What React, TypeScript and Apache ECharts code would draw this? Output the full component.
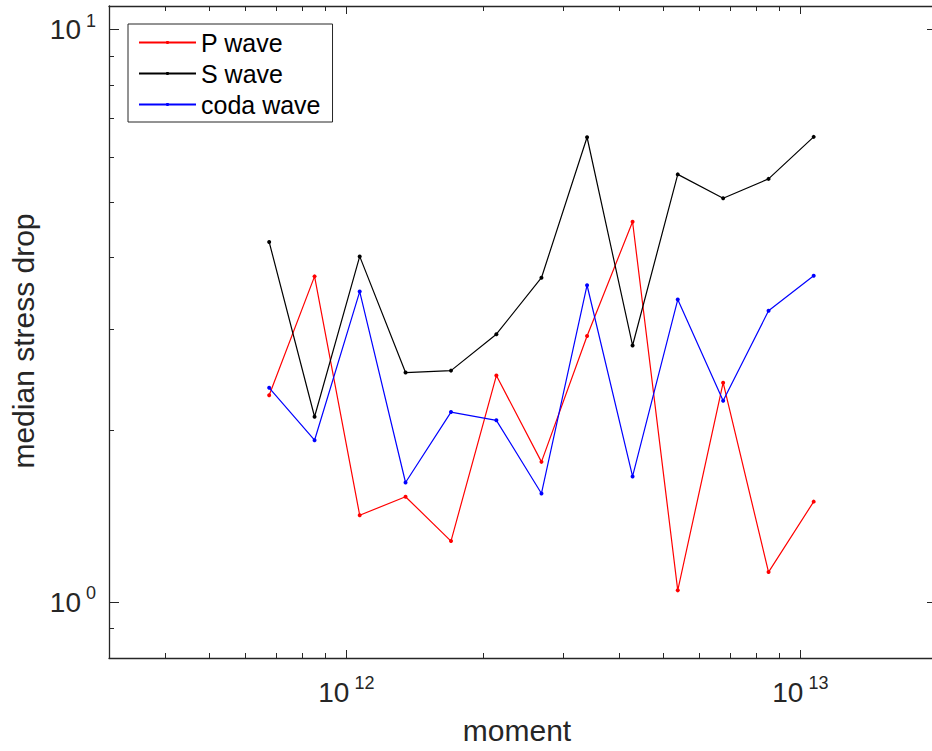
import React, { useEffect, useRef } from "react";
import * as echarts from "echarts";

const moments = [6.76e11, 8.51e11, 1.07e12, 1.35e12, 1.7e12, 2.14e12, 2.69e12, 3.39e12, 4.27e12, 5.37e12, 6.76e12, 8.51e12, 1.07e13];
const pWave = [2.3, 3.71, 1.42, 1.53, 1.28, 2.49, 1.76, 2.92, 4.62, 1.05, 2.42, 1.13, 1.5];
const sWave = [4.26, 2.11, 4.02, 2.52, 2.54, 2.94, 3.69, 6.49, 2.81, 5.59, 5.08, 5.49, 6.5];
const codaWave = [2.37, 1.92, 3.49, 1.62, 2.15, 2.08, 1.55, 3.58, 1.66, 3.38, 2.25, 3.23, 3.72];

const xMajor = [1e12, 1e13];
const xMinor = [4e11, 5e11, 6e11, 7e11, 8e11, 9e11, 2e12, 3e12, 4e12, 5e12, 6e12, 7e12, 8e12, 9e12];
const yMajor = [1, 10];
const yMinor = [0.9, 2, 3, 4, 5, 6, 7, 8, 9];

const X_MIN = 3e11;
const X_MAX = 2e13;
const Y_MIN = 0.8;
const Y_MAX = 11;

const AX = "#262626";
const FONT = "'Liberation Sans', Arial, sans-serif";

const rich = {
  b: { fontSize: 28, fontFamily: FONT, color: AX },
  s: { fontSize: 18, fontFamily: FONT, color: AX, padding: [0, 0, 18, 5] },
};
const fmt = (v: number) => `{b|10}{s|${Math.round(Math.log10(v))}}`;

export default function App() {
  const ref = useRef<HTMLDivElement>(null);
  useEffect(() => {
    if (!ref.current) return;
    const chart = echarts.init(ref.current, undefined, { renderer: "svg" });
    const mk = (arr: number[]) => moments.map((m, i) => [m, arr[i]]);
    const baseX = (pos: string, ticks: number[], len: number, extra: any = {}) => ({
      type: "log",
      logBase: 10,
      position: pos,
      min: X_MIN,
      max: X_MAX,
      axisLine: { show: false },
      axisTick: { show: true, inside: true, length: len, customValues: ticks, lineStyle: { color: AX, width: 1 } },
      axisLabel: { show: false },
      splitLine: { show: false },
      minorTick: { show: false },
      ...extra,
    });
    const baseY = (pos: string, ticks: number[], len: number, extra: any = {}) => ({
      type: "log",
      logBase: 10,
      position: pos,
      min: Y_MIN,
      max: Y_MAX,
      axisLine: { show: false },
      axisTick: { show: true, inside: true, length: len, customValues: ticks, lineStyle: { color: AX, width: 1 } },
      axisLabel: { show: false },
      splitLine: { show: false },
      minorTick: { show: false },
      ...extra,
    });
    const lineSeries = (name: string, color: string, arr: number[]) => ({
      name,
      type: "line",
      xAxisIndex: 0,
      yAxisIndex: 0,
      data: mk(arr),
      symbol: "circle",
      symbolSize: 4,
      showSymbol: true,
      lineStyle: { color, width: 1.2 },
      itemStyle: { color },
      emphasis: { disabled: true },
    });
    chart.setOption({
      animation: false,
      backgroundColor: "#ffffff",
      grid: { left: 109, top: 6, right: -5, bottom: 93, outerBoundsMode: "none" },
      legend: {
        orient: "vertical",
        left: 128,
        top: 24,
        padding: [6, 12, 5, 10],
        itemWidth: 57,
        itemHeight: 4,
        itemGap: 6,
        borderColor: AX,
        borderWidth: 1,
        backgroundColor: "#ffffff",
        textStyle: { fontSize: 25, fontFamily: FONT, color: "#000" },
        data: ["P wave", "S wave", "coda wave"],
      },
      xAxis: [
        baseX("bottom", xMajor, 8, {
          axisLine: { show: true, lineStyle: { color: AX, width: 1.3 } },
          axisLabel: { show: true, customValues: xMajor, margin: 16, formatter: fmt, rich },
          name: "moment",
          nameLocation: "middle",
          nameGap: 57,
          nameTextStyle: { fontSize: 30, fontFamily: FONT, color: AX, padding: [0, 12, 0, 0] },
        }),
        baseX("bottom", xMinor, 5),
        baseX("top", xMajor, 8, { axisLine: { show: true, lineStyle: { color: AX, width: 1.3 } } }),
        baseX("top", xMinor, 5),
      ],
      yAxis: [
        baseY("left", yMajor, 10, {
          axisLine: { show: true, lineStyle: { color: AX, width: 1.3 } },
          axisLabel: { show: true, customValues: yMajor, margin: 13, formatter: fmt, rich },
          name: "median stress drop",
          nameLocation: "middle",
          nameGap: 64,
          nameRotate: 90,
          nameTextStyle: { fontSize: 30, fontFamily: FONT, color: AX, padding: [0, 18, 0, 0] },
        }),
        baseY("left", yMinor, 5),
        baseY("right", yMajor, 10, { axisLine: { show: true, lineStyle: { color: AX, width: 1.3 } } }),
        baseY("right", yMinor, 5),
      ],
      series: [
        lineSeries("P wave", "#ff0000", pWave),
        lineSeries("S wave", "#000000", sWave),
        lineSeries("coda wave", "#0000ff", codaWave),
      ],
    });
    return () => chart.dispose();
  }, []);
  return <div ref={ref} style={{ position: "absolute", left: 0, top: 0, width: 932, height: 751 }} />;
}
